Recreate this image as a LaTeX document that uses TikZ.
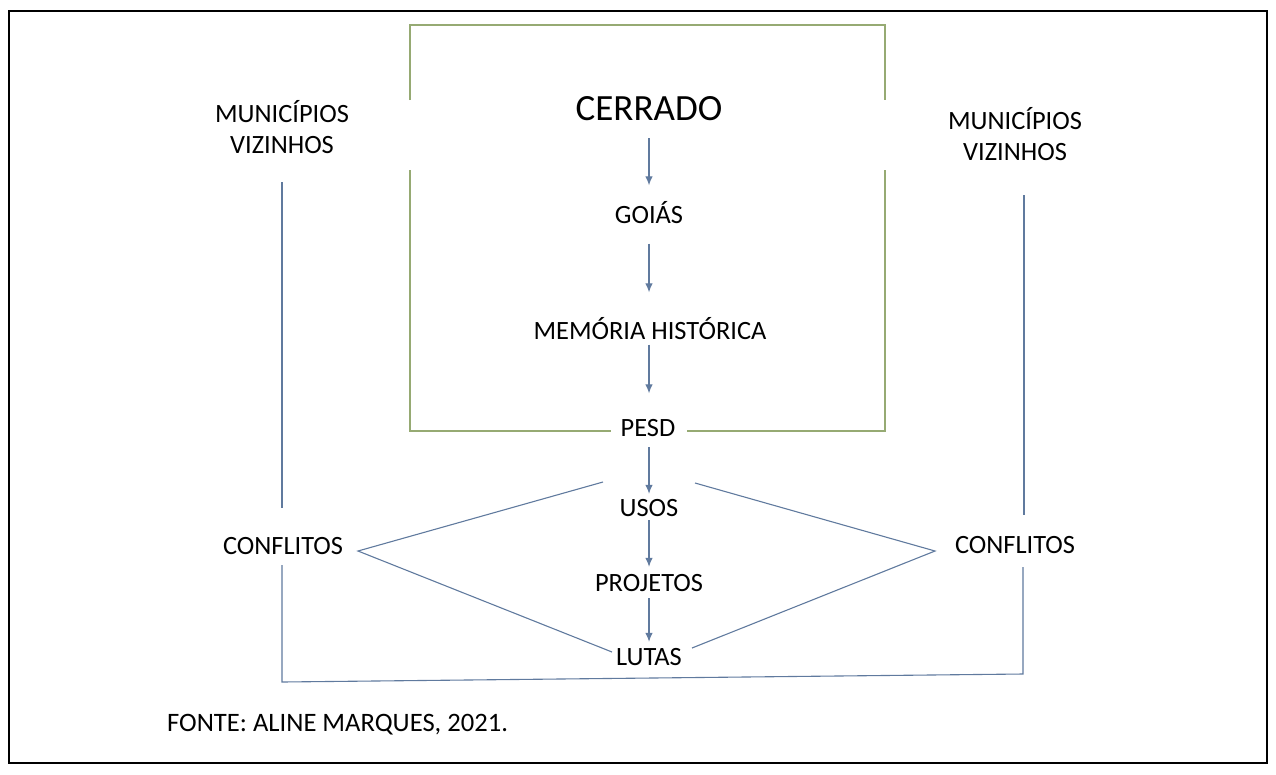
\documentclass[tikz,border=0pt]{standalone}
\usepackage{fontspec}
\setmainfont{Carlito}
\usetikzlibrary{arrows.meta}
\definecolor{lineblue}{RGB}{96,122,158}
\definecolor{boxgreen}{RGB}{150,170,115}
\tikzset{
  txt/.style={inner sep=0pt, font=\fontsize{26.4}{31}\selectfont, text height=17pt, text depth=0pt, align=center},
  bigtxt/.style={inner sep=0pt, font=\fontsize{37}{44}\selectfont, text height=24pt, text depth=0pt},
  srctxt/.style={inner sep=0pt, font=\fontsize{26.6}{32}\selectfont, text height=18pt, text depth=0pt, anchor=west},
  arr/.style={draw=lineblue, line width=1.1pt, -{Latex[length=9pt,width=7.5pt]}},
  conn/.style={draw=lineblue, line width=1.1pt},
  frame/.style={draw=boxgreen, line width=1.3pt}
}
\begin{document}
\begin{tikzpicture}[x=1pt,y=-1pt]
\useasboundingbox (0,0) rectangle (1276,774);
\draw[line width=2.6pt] (9,11) rectangle (1267,763);
% green frame
\draw[frame] (410,100) -- (410,25) -- (885,25) -- (885,100);
\draw[frame] (410,170) -- (410,431) -- (611,431);
\draw[frame] (885,170) -- (885,431) -- (687,431);
% nodes
\node[bigtxt] (cer) at (649,108) {CERRADO};
\node[txt] (goi) at (649,215) {GOIÁS};
\node[txt] (mem) at (650,331) {MEMÓRIA HISTÓRICA};
\node[txt] (pesd) at (648,428) {PESD};
\node[txt] (usos) at (649,508) {USOS};
\node[txt] (proj) at (649,583) {PROJETOS};
\node[txt] (lut) at (649,657) {LUTAS};
\node[txt] (mun1) at (282,145) {MUNICÍPIOS\\VIZINHOS};
\node[txt] (mun2) at (1015,152) {MUNICÍPIOS\\VIZINHOS};
\node[txt] (conf1) at (283,546) {CONFLITOS};
\node[txt] (conf2) at (1015,545) {CONFLITOS};
\node[srctxt] (src) at (167,722) {FONTE: ALINE MARQUES, 2021.};
% vertical arrows (all on the column x of the centre)
\draw[arr, shorten <=18pt, shorten >=21pt] (cer.south) -- (cer.south |- goi.north);
\draw[arr, shorten <=20pt, shorten >=30pt] (goi.south) -- (goi.south |- mem.north);
\draw[arr, shorten <=5pt, shorten >=26pt] (mem.south -| goi) -- (goi |- pesd.north);
\draw[arr, shorten <=10.5pt, shorten >=5.5pt] (pesd.south -| goi) -- (goi |- usos.north);
\draw[arr, shorten <=3.5pt, shorten >=7.5pt] (usos.south) -- (usos.south |- proj.north);
\draw[arr, shorten <=6.5pt, shorten >=6.5pt] (proj.south) -- (proj.south |- lut.north);
% coordinates for connector ends
\coordinate (l1) at (282,182);
\coordinate (l2) at (282,508);
\coordinate (l3) at (282,565);
\coordinate (l4) at (282,682);
\coordinate (r1) at (1024,195);
\coordinate (r2) at (1024,515);
\coordinate (r3) at (1023,567);
\coordinate (r4) at (1023,674);
\coordinate (v1) at (358,551);
\coordinate (v2) at (935,551);
\coordinate (ul) at (603,482);
\coordinate (ur) at (695,483);
\coordinate (ll) at (612,652);
\coordinate (lr) at (692,648);
% connectors
\draw[conn] (l1) -- (l2);
\draw[conn] (r1) -- (r2);
\draw[conn] (l3) -- (l4) -- (r4) -- (r3);
\draw[conn] (ul) -- (v1) -- (ll);
\draw[conn] (ur) -- (v2) -- (lr);
\end{tikzpicture}
\end{document}
